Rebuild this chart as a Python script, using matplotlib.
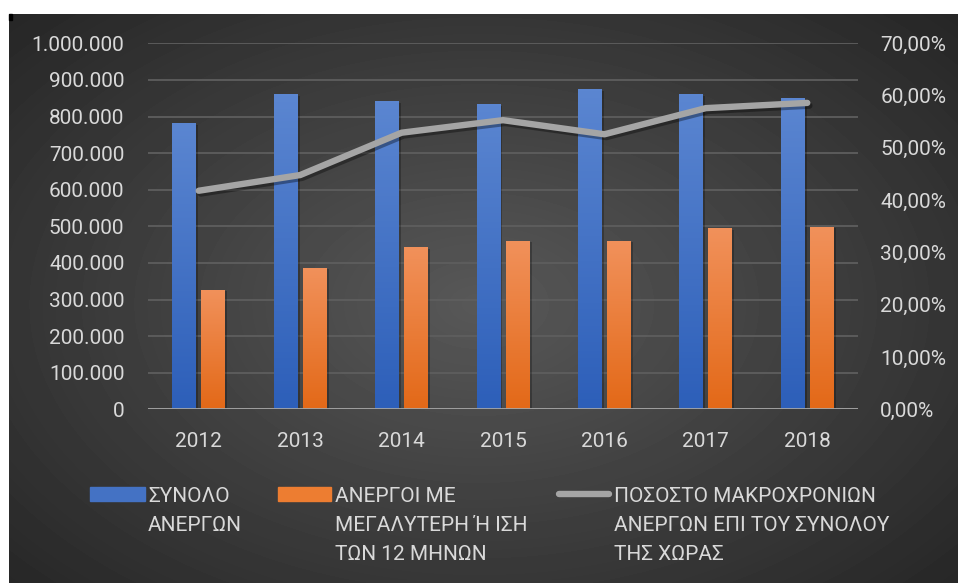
import numpy as np
import matplotlib
matplotlib.use("Agg")
import matplotlib.pyplot as plt
import matplotlib.transforms as mtransforms
from matplotlib.colors import LinearSegmentedColormap
from matplotlib.patches import Rectangle
from matplotlib.lines import Line2D
import matplotlib.patheffects as pe

plt.rcParams['font.family'] = ['Roboto', 'DejaVu Sans']

years = ['2012', '2013', '2014', '2015', '2016', '2017', '2018']
total_unemployed = [782000, 861000, 842000, 834000, 875000, 861000, 850000]
long_term = [326000, 386000, 443000, 460000, 460000, 495000, 498000]
long_term_share = [0.418, 0.448, 0.529, 0.553, 0.526, 0.576, 0.586]

label_total = ['ΣΥΝΟΛΟ', 'ΑΝΕΡΓΩΝ']
label_long = ['ΑΝΕΡΓΟΙ ΜΕ', 'ΜΕΓΑΛΥΤΕΡΗ Ή ΙΣΗ', 'ΤΩΝ 12 ΜΗΝΩΝ']
label_share = ['ΠΟΣΟΣΤΟ ΜΑΚΡΟΧΡΟΝΙΩΝ', 'ΑΝΕΡΓΩΝ ΕΠΙ ΤΟΥ ΣΥΝΟΛΟΥ', 'ΤΗΣ ΧΩΡΑΣ']

W, H = 958, 583
txt = '#d9d9d9'
blue = '#4472c4'
orange = '#ed7d31'
grey = '#a5a5a5'
fs = 15

fig = plt.figure(figsize=(W / 100, H / 100), dpi=100)
fig.patch.set_facecolor('white')

# pixel coords transform (origin top-left)
px = mtransforms.Affine2D().scale(1 / W, -1 / H).translate(0, 1) + fig.transFigure

# dark radial background
bg = fig.add_axes([9 / W, 0, 1 - 9 / W, 1 - 14 / H], zorder=-5)
yy, xx = np.mgrid[0:569, 0:949]
r = np.sqrt(((xx - 470) / 470.0) ** 2 + ((yy - 290) / 300.0) ** 2)
val = np.clip(0.345 - 0.14 * r, 0.15, 1)
bg.imshow(val, cmap='gray', vmin=0, vmax=1, aspect='auto', interpolation='bilinear')
bg.axis('off')
fig.add_artist(Rectangle((9, 14), 3, 6, transform=px, color='black', zorder=10))

ax = fig.add_axes([148 / W, 1 - 409.3 / H, 710 / W, 366 / H])
ax.patch.set_alpha(0)
x = np.arange(len(years))
w = 0.236
off = 0.143

b1 = ax.bar(x - off, total_unemployed, w, color=blue, zorder=3)
b2 = ax.bar(x + off, long_term, w, color=orange, zorder=3)

cm_blue = LinearSegmentedColormap.from_list('b', ['#2d5fb9', '#5b86d1'])
cm_orange = LinearSegmentedColormap.from_list('o', ['#e36918', '#f1915b'])
grad = np.linspace(0, 1, 100).reshape(-1, 1)
for bars, cm in ((b1, cm_blue), (b2, cm_orange)):
    for p in bars:
        x0, y0 = p.get_x(), p.get_y()
        # soft shadow
        ax.add_patch(Rectangle((x0 + 0.02, y0), p.get_width(), p.get_height() - 4000,
                               color='black', alpha=0.25, zorder=2, lw=0))
        im = ax.imshow(grad, extent=[x0, x0 + p.get_width(), y0, y0 + p.get_height()],
                       origin='lower', cmap=cm, aspect='auto', zorder=4)
        im.set_clip_path(p)

ax.set_xlim(-0.5, len(years) - 0.5)
ax.set_ylim(0, 1000000)
ax.set_yticks(np.arange(0, 1000001, 100000))
ax.set_yticklabels(['0' if v == 0 else f'{v:,.0f}'.replace(',', '.')
                    for v in np.arange(0, 1000001, 100000)])
ax.set_xticks(x)
ax.set_xticklabels(years)
ax.grid(axis='y', color='#5e5e5e', lw=1.3, zorder=0)
ax.set_axisbelow(True)
for s in ax.spines.values():
    s.set_visible(False)
ax.axhline(0, color='#a6a6a6', lw=2, zorder=5)
ax.tick_params(length=0, colors=txt, labelsize=fs)
ax.tick_params(axis='y', pad=17)
ax.tick_params(axis='x', pad=16)

ax2 = ax.twinx()
ax2.set_ylim(0, 0.7)
ax2.set_yticks(np.arange(0, 0.71, 0.1))
ax2.set_yticklabels([f'{v * 100:.2f}%'.replace('.', ',') for v in np.arange(0, 0.71, 0.1)])
ax2.tick_params(length=0, colors=txt, labelsize=fs, pad=16)
for s in ax2.spines.values():
    s.set_visible(False)
ax2.plot(x, long_term_share, color=grey, lw=4.6, solid_capstyle='round',
         solid_joinstyle='round',
         path_effects=[pe.SimpleLineShadow(offset=(1.5, -2), alpha=0.35), pe.Normal()])

# legend (drawn by hand to match the multi-line layout)
fig.add_artist(Rectangle((90, 487), 55, 14, transform=px, color=blue))
fig.add_artist(Rectangle((278, 487), 53, 14, transform=px, color=orange))
fig.add_artist(Line2D([559, 609], [494, 494], transform=px, color=grey, lw=4.6,
                      solid_capstyle='round'))
baselines = [502, 531, 560]
for lx, lines in ((148, label_total), (335, label_long), (614, label_share)):
    for i, s in enumerate(lines):
        fig.text(lx, baselines[i], s, transform=px, color=txt, fontsize=fs,
                 va='baseline', ha='left')

fig.savefig('out.png', dpi=100)
